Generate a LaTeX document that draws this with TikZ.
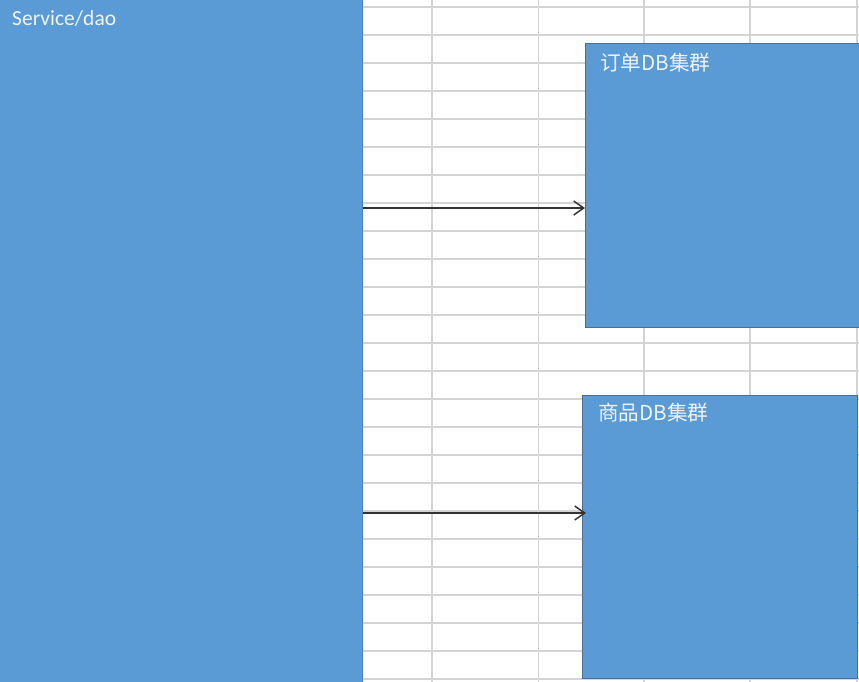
\documentclass[tikz,border=0pt]{standalone}
\usepackage{fontspec}
\setmainfont{Carlito}
\newfontfamily\cjk{Noto Sans CJK SC}
\usetikzlibrary{arrows.meta}
\definecolor{boxblue}{HTML}{5B9BD5}
\definecolor{boxedge}{HTML}{41719C}
\definecolor{gridgray}{HTML}{D4D4D4}
\definecolor{txtlight}{HTML}{F0F4FA}
\definecolor{arrowgray}{HTML}{333333}
\tikzset{
  blockbox/.style={fill=boxblue, draw=boxedge, line width=0.8pt, inner sep=0pt, anchor=north west},
  gridline/.style={draw=gridgray, line width=1.2pt},
  flowarrow/.style={draw=arrowgray, line width=1.6pt, -{Straight Barb[length=10pt,width=14pt,line width=1.5pt]}},
  boxlabel/.style={text=txtlight, inner sep=0pt, anchor=west}
}
\begin{document}
\begin{tikzpicture}[x=1pt,y=1pt]
\useasboundingbox (0,0) rectangle (859,-682);
\fill[white] (0,0) rectangle (859,-682);
% grid
\foreach \yy in {0,...,24} {
  \draw[gridline] (362,{-7-28*\yy}) -- (859,{-7-28*\yy});
}
\foreach \xx in {432,538.5,644,750,857} {
  \draw[gridline] (\xx,0) -- (\xx,-682);
}
% blocks
\node[blockbox, draw=none, minimum width=362pt, minimum height=682pt] (svc) at (0,0) {};
\draw[boxedge!60!boxblue, line width=0.8pt] (svc.north east) -- (svc.south east);
\node[blockbox, minimum width=280pt, minimum height=284pt] (db1) at (585,-43) {};
\node[blockbox, minimum width=275pt, minimum height=283pt] (db2) at (582,-395) {};
% labels
\node[boxlabel, anchor=base west, font=\fontsize{21.5}{25}\selectfont] (svclabel) at (12,-26) {Service/dao};
\node[boxlabel, font=\cjk\fontsize{20.6}{24}\selectfont] (db1label) at (600,-63) {订单DB集群};
\node[boxlabel, font=\cjk\fontsize{20.6}{24}\selectfont] (db2label) at (598,-413) {商品DB集群};
% arrows
\coordinate (a1) at (0,-208);
\coordinate (a2) at (0,-513);
\draw[flowarrow] (svc.east |- a1) -- (db1.west |- a1);
\draw[flowarrow] (svc.east |- a2) -- ([xshift=4pt]db2.west |- a2);
\end{tikzpicture}
\end{document}
